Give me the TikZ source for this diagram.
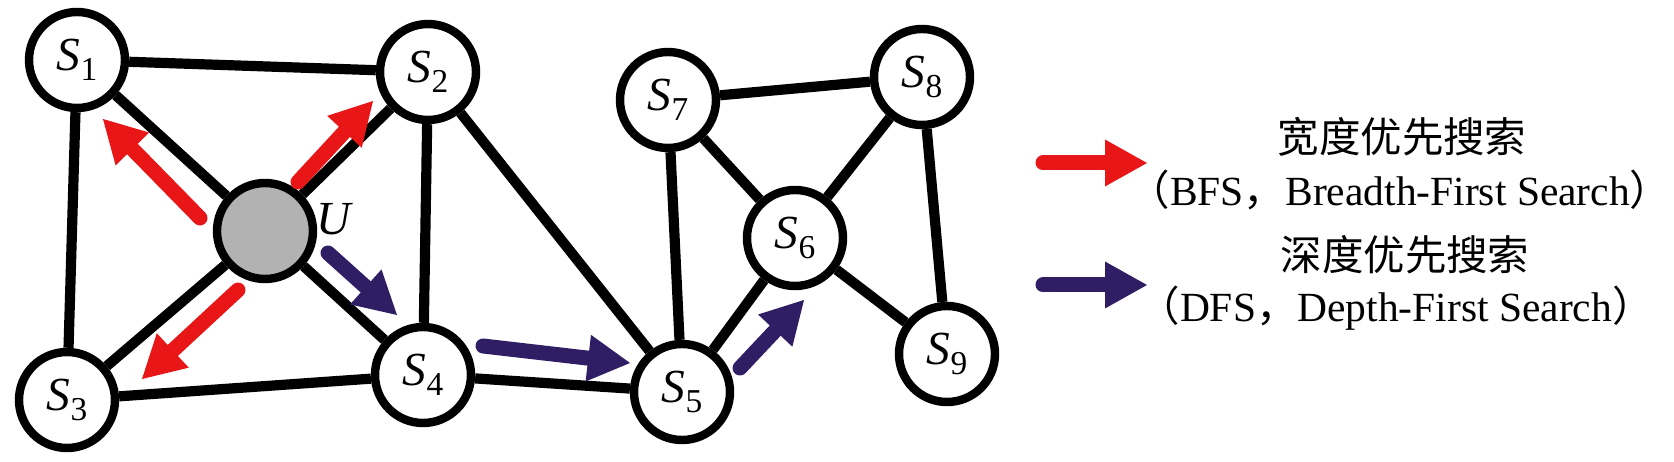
\documentclass[tikz,border=0pt]{standalone}
\usepackage{fontspec}
\setmainfont{Liberation Serif}
\newfontfamily\cjk{Noto Sans CJK SC}
\usepackage{tikz}
\usetikzlibrary{arrows.meta}
\definecolor{bfsred}{RGB}{232,22,22}
\definecolor{dfsblue}{RGB}{48,30,100}
\newcommand{\sx}[1]{\textit{S}\raisebox{-0.45ex}{\fontsize{9.5}{10}\selectfont #1}}
\tikzset{
  vert/.style={circle,draw,line width=2.4pt,minimum size=0.96cm,inner sep=0pt,fill=white,font=\fontsize{13.5}{15}\selectfont},
  cur/.style={vert,fill=black!30},
  edge/.style={line width=2.9pt,line cap=butt},
  bfs/.style={->,bfsred,line width=0.15cm},
  dfs/.style={->,dfsblue,line width=0.15cm},
  legend/.style={font=\fontsize{11.8}{14}\selectfont,inner sep=0pt}
}

\begin{document}
\begin{tikzpicture}[line cap=round,line join=round,>={Triangle[width=0.47cm,length=0.42cm,line width=0pt]},x=1.0cm,y=1.0cm]
        \useasboundingbox (0,0) rectangle (16.74,4.62);
        % vertices
        \node[vert] (S1) at (0.77,4.02) {\sx{1}};
        \node[vert] (S2) at (4.28,3.90) {\sx{2}};
        \node[cur]  (U)  at (2.65,2.31) {};
        \node[vert] (S3) at (0.67,0.62) {\sx{3}};
        \node[vert] (S4) at (4.23,0.87) {\sx{4}};
        \node[vert] (S5) at (6.82,0.70) {\sx{5}};
        \node[vert] (S6) at (7.95,2.24) {\sx{6}};
        \node[vert] (S7) at (6.68,3.62) {\sx{7}};
        \node[vert] (S8) at (9.22,3.85) {\sx{8}};
        \node[vert] (S9) at (9.47,1.08) {\sx{9}};
        \node[font=\fontsize{13.5}{15}\selectfont,inner sep=0pt] (lblU) at (3.35,2.43) {\textit{U}};
        % edges
        \foreach \a/\b in {S1/S2,S1/S3,S1/U,U/S2,U/S3,U/S4,S2/S4,S2/S5,S3/S4,S4/S5,S5/S7,S5/S6,S7/S6,S7/S8,S8/S6,S8/S9,S6/S9}
            \draw[edge] (\a) -- (\b);
        % search arrows
        \coordinate (b1) at (2.00,2.44); \coordinate (b1e) at (1.03,3.43);
        \coordinate (b2) at (2.98,2.80); \coordinate (b2e) at (3.73,3.61);
        \coordinate (b3) at (2.38,1.72); \coordinate (b3e) at (1.42,0.83);
        \coordinate (d1) at (3.28,2.09); \coordinate (d1e) at (3.97,1.47);
        \coordinate (d2) at (4.83,1.16); \coordinate (d2e) at (6.30,0.99);
        \coordinate (d3) at (7.40,0.94); \coordinate (d3e) at (8.04,1.62);
        \draw[bfs] (b1) -- (b1e);
        \draw[bfs] (b2) -- (b2e);
        \draw[bfs] (b3) -- (b3e);
        \draw[dfs] (d1) -- (d1e);
        \draw[dfs] (d2) -- (d2e);
        \draw[dfs] (d3) -- (d3e);
        % legend
        \coordinate (lb) at (10.43,2.99); \coordinate (lbe) at (11.47,2.99);
        \coordinate (ld) at (10.43,1.77); \coordinate (lde) at (11.47,1.77);
        \draw[bfs] (lb) -- (lbe);
        \draw[dfs] (ld) -- (lde);
        \node[legend] (bfsZh) at (14.02,3.25) {\cjk 宽度优先搜索};
        \node[legend] (bfsEn) at (14.00,2.72) {{\cjk （}BFS{\cjk ，}Breadth-First Search{\cjk ）}};
        \node[legend] (dfsZh) at (14.05,2.07) {\cjk 深度优先搜索};
        \node[legend] (dfsEn) at (13.96,1.54) {{\cjk （}DFS{\cjk ，}Depth-First Search{\cjk ）}};
\end{tikzpicture}
\end{document}
